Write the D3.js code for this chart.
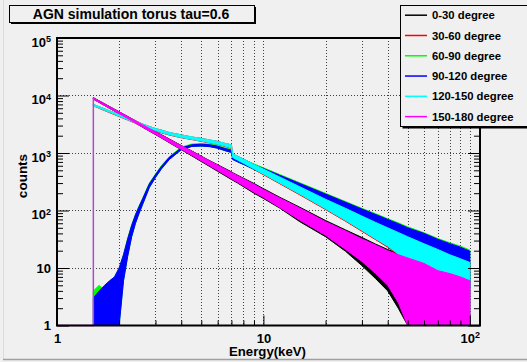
<!DOCTYPE html>
<html>
<head>
<meta charset="utf-8">
<script src="https://cdn.jsdelivr.net/npm/d3@7"></script>
<style>
  html, body { margin: 0; padding: 0; background: #f0f0f0; }
  svg { display: block; font-family: "Liberation Sans", Arial, Helvetica, sans-serif; font-weight: bold; }
</style>
</head>
<body>
<svg id="chart" width="527" height="362"></svg>
<script>
// ---- data -------------------------------------------------------------
// Energy knots (keV) at which the spread of the simulated counts is given
const energyKeV = [1.5,1.6,1.7,1.8,1.9,2.0,2.1,2.2,2.3,2.4,2.5,2.6,2.8,3.0,3.2,3.5,4.0,4.5,5.0,5.5,6.0,6.5,7.0,7.1,7.5,8,9,10,12,15,20,25,30,35,40,45,50,60,70,80,90,100];

// Upper / lower envelope of counts per bin, one pair per viewing-angle bin
const hi0to30 = [9180,8080,7170,6410,5770,5220,4740,4330,3960,3650,3360,3120,2700,2370,2090,1750,1350,1085,880,735,625,540,470,455,410,365,295,240,170,114,67,46,34,26,21,18,15.5,12.5,9.5,8.5,7.5,6.5];
const lo0to30 = [8640,7580,6700,5960,5340,4810,4350,3960,3620,3310,3040,2800,2400,2090,1830,1510,1140,890,710,580,480,405,345,335,300,260,200,162,110,64,35,19.5,11,6.5,4,2,0.5,0,0,0,0,0];

const hi30to60 = [7000,6390,5880,5400,5020,4650,4350,4050,3820,3580,3400,3190,2900,2660,2510,2270,2070,1900,1800,1680,1590,1470,1390,960,880,785,640,530,386,262,160,112,82,64,51,42.5,36,27,21.5,17.5,15,13];
const lo30to60 = [6600,5990,5460,5020,4640,4300,4000,3740,3500,3290,3090,2920,2620,2420,2250,2050,1840,1710,1590,1490,1395,1300,1200,820,735,650,515,420,292,187,104,65,43.5,31,23,17,12.5,8,4.8,2.8,1.8,0.8];

const hi60to90 = [4,5,4,6,7,10,17,33,56,86,121,164,298,432,597,865,1265,1430,1460,1430,1350,1235,1150,915,847,770,645,553,422,304,199,143,109,88,72,61,52,41,32.5,27.5,24,20.5];
const lo60to90 = [0,0,0,0,0,1,6,16,35,60,90,128,250,375,525,770,1140,1300,1320,1290,1210,1100,1020,770,701,632,522,439,326,225,137,91,66,49,38,29,24,16,11.5,8.5,6,4.4];

const hi90to120 = [3,4,5,6,7,10,17,32,55,84,118,160,290,420,580,840,1230,1390,1420,1390,1310,1200,1120,890,823,748,628,537,410,295,193,139,106,85,70,59,50,40,31.5,26.5,23,19.6];
const lo90to120 = [0,0,0,0,0,1,6,16,35,60,90,128,250,375,525,770,1140,1300,1320,1290,1210,1100,1020,770,701,632,522,439,326,225,137,91,66,49,38,29,24,16,11.5,8.5,6,4.4];

const hi120to150 = [7020,6400,5870,5410,5010,4660,4340,4060,3810,3590,3390,3200,2890,2670,2500,2280,2060,1910,1790,1690,1585,1480,1380,966,876,781,633,526,382,259,157,109,80,62,50,41.5,35,26.4,21,17,14.5,12.5];
const lo120to150 = [6660,6060,5530,5090,4700,4360,4060,3790,3550,3330,3130,2960,2650,2450,2280,2080,1860,1730,1610,1510,1415,1320,1220,834,750,663,527,430,300,193,107,67,45,32,24,17.5,13,8.4,5,3,2,1];

const hi150to180 = [9140,8040,7140,6380,5740,5190,4710,4300,3940,3630,3340,3100,2680,2350,2070,1730,1340,1070,870,726,615,528,460,447,403,357,286,231,165,110,64,44,32,25,20,17,15,12,9,8,7,6];
const lo150to180 = [8660,7600,6720,5980,5360,4830,4370,3980,3640,3330,3060,2820,2420,2110,1850,1530,1160,910,730,598,497,420,358,347,309,269,208,169,113,68,37,21,13,8,5,2.5,1,0,0,0,0,0];

const seriesLabels = ["0-30 degree","30-60 degree","60-90 degree","90-120 degree","120-150 degree","150-180 degree"];
const seriesColors = ["#000000","#ff0000","#00ff00","#0000ff","#00ffff","#ff00ff"];
const seriesHi = [hi0to30, hi30to60, hi60to90, hi90to120, hi120to150, hi150to180];
const seriesLo = [lo0to30, lo30to60, lo60to90, lo90to120, lo120to150, lo150to180];

// Axis ticks: [mantissa, exponent]
const xTickValues = [1, 10, 100];
const xTickLabels = [["1",""],["10",""],["10","2"]];
const yTickValues = [1, 10, 100, 1000, 10000, 100000];
const yTickLabels = [["1",""],["10",""],["10","2"],["10","3"],["10","4"],["10","5"]];

const titleText = "AGN simulation torus tau=0.6";
const xTitle = "Energy(keV)";
const yTitle = "counts";

// ---- layout -----------------------------------------------------------
const W = 527, H = 362;
const frame = { left: 57, right: 480, top: 38, bottom: 325.5 };
const bg = "#f0f0f0";

const svg = d3.select("#chart");
svg.append("rect").attr("width", W).attr("height", H).attr("fill", bg);
// canvas bevel
svg.append("line").attr("x1", 3.5).attr("x2", 3.5).attr("y1", 0).attr("y2", 359)
   .attr("stroke", "#dcdcdc").attr("stroke-width", 1);
svg.append("line").attr("x1", 3).attr("x2", W).attr("y1", 359.5).attr("y2", 359.5)
   .attr("stroke", "#a0a0a0").attr("stroke-width", 1.5);

const x = d3.scaleLog().domain([1, 112]).range([frame.left, frame.right]);
const y = d3.scaleLog().domain([1, 1e5]).range([frame.bottom, frame.top]).clamp(true);
const yc = v => y(Math.max(v, 1));

// minor tick positions per decade
const xMinor = [];
[1, 10].forEach(d => { for (let k = 2; k <= 9; k++) xMinor.push(k * d); });
const yMinor = [];
[1, 10, 100, 1000, 10000].forEach(d => { for (let k = 2; k <= 9; k++) yMinor.push(k * d); });

// ---- grid ---------------------------------------------------------------
const grid = svg.append("g").attr("stroke", "#404040").attr("stroke-width", 1)
  .attr("stroke-dasharray", "1,2");
xMinor.concat([10, 100]).forEach(v => {
  const px = Math.round(x(v)) + 0.5;
  grid.append("line").attr("x1", px).attr("x2", px).attr("y1", frame.top).attr("y2", frame.bottom);
});
yTickValues.slice(1, -1).forEach(v => {
  const py = Math.round(y(v)) + 0.5;
  grid.append("line").attr("x1", frame.left).attr("x2", frame.right).attr("y1", py).attr("y2", py);
});

// ---- spectra ------------------------------------------------------------
const area = d3.area()
  .x(d => x(d.e))
  .y0(d => yc(d.lo))
  .y1(d => yc(d.hi));

const plot = svg.append("g");
seriesLabels.forEach((name, i) => {
  const rows = energyKeV.map((e, j) => ({ e, hi: seriesHi[i][j], lo: seriesLo[i][j] }));
  plot.append("path").datum(rows)
    .attr("d", area)
    .attr("fill", seriesColors[i])
    .attr("stroke", seriesColors[i])
    .attr("stroke-width", 1)
    .attr("stroke-linejoin", "round");
});

// empty bins below the first energy knot, drawn along the axis floor
const firstPeak = d3.max(seriesHi, s => s[0]);
plot.append("path")
  .attr("d", d3.line()([
    [x(1), yc(0)], [x(energyKeV[0]), yc(0)], [x(energyKeV[0]), yc(firstPeak)]
  ]))
  .attr("fill", "none").attr("stroke", "#b848c8").attr("stroke-width", 1.5);

// ---- frame and axes -----------------------------------------------------
svg.append("rect")
  .attr("x", frame.left).attr("y", frame.top)
  .attr("width", frame.right - frame.left).attr("height", frame.bottom - frame.top)
  .attr("fill", "none").attr("stroke", "#000").attr("stroke-width", 2);

function styleAxis(g) {
  g.select(".domain").remove();
  g.selectAll(".tick line").attr("stroke", "#000").attr("stroke-width", 1);
}

function supLabel(sel, labels, values) {
  sel.selectAll(".tick text").each(function (d) {
    const idx = values.indexOf(d);
    const t = d3.select(this).text(null);
    const [base, exp] = labels[idx];
    t.append("tspan").text(base);
    if (exp) {
      t.append("tspan").text(exp).attr("font-size", 9).attr("dy", "-0.5em");
    }
  });
}

// bottom axis
svg.append("g").attr("transform", `translate(0,${frame.bottom})`)
  .call(d3.axisBottom(x).tickValues(xMinor).tickSize(-5).tickFormat(""))
  .call(styleAxis);
const gxMajor = svg.append("g").attr("transform", `translate(0,${frame.bottom})`)
  .call(d3.axisBottom(x).tickValues(xTickValues).tickSize(-10).tickPadding(8))
  .call(styleAxis);
gxMajor.selectAll(".tick text").attr("font-size", 13).attr("fill", "#000")
  .attr("font-family", "Liberation Sans, Arial, sans-serif").attr("font-weight", "bold");
supLabel(gxMajor, xTickLabels, xTickValues);

// left axis
svg.append("g").attr("transform", `translate(${frame.left},0)`)
  .call(d3.axisLeft(y).tickValues(yMinor).tickSize(-6).tickFormat(""))
  .call(styleAxis);
const gyMajor = svg.append("g").attr("transform", `translate(${frame.left},0)`)
  .call(d3.axisLeft(y).tickValues(yTickValues).tickSize(-12).tickPadding(6))
  .call(styleAxis);
gyMajor.selectAll(".tick text").attr("font-size", 13).attr("fill", "#000")
  .attr("font-family", "Liberation Sans, Arial, sans-serif").attr("font-weight", "bold");
supLabel(gyMajor, yTickLabels, yTickValues);
// labels with an exponent sit a little lower so that the whole label is centred
gyMajor.selectAll(".tick text").each(function (d) {
  const idx = yTickValues.indexOf(d);
  if (yTickLabels[idx][1]) d3.select(this).attr("dy", "0.62em");
});

// right axis (ticks only)
svg.append("g").attr("transform", `translate(${frame.right},0)`)
  .call(d3.axisRight(y).tickValues(yMinor).tickSize(-6).tickFormat(""))
  .call(styleAxis);
svg.append("g").attr("transform", `translate(${frame.right},0)`)
  .call(d3.axisRight(y).tickValues(yTickValues).tickSize(-12).tickFormat(""))
  .call(styleAxis);

// axis titles
svg.append("text").attr("x", 267.5).attr("y", 355.5).attr("text-anchor", "middle")
  .attr("font-size", 13.2).text(xTitle);
svg.append("text").attr("transform", "translate(27,176) rotate(-90)")
  .attr("text-anchor", "middle").attr("font-size", 13.5).text(yTitle);

// ---- title box ----------------------------------------------------------
const tb = { x: 9.5, y: 5.5, w: 245, h: 17 };
svg.append("rect").attr("x", tb.x + 1.5).attr("y", tb.y + 1.5).attr("width", tb.w).attr("height", tb.h)
  .attr("fill", "#000");
svg.append("rect").attr("x", tb.x).attr("y", tb.y).attr("width", tb.w).attr("height", tb.h)
  .attr("fill", bg).attr("stroke", "#000").attr("stroke-width", 1);
svg.append("text").attr("x", tb.x + tb.w / 2 - 1).attr("y", 19.3).attr("text-anchor", "middle")
  .attr("font-size", 14).text(titleText);

// ---- legend -------------------------------------------------------------
const lg = { x: 400.5, y: 5.5, w: 140, h: 121 };
svg.append("rect").attr("x", lg.x + 2).attr("y", lg.y + 2).attr("width", lg.w).attr("height", lg.h)
  .attr("fill", "#000");
svg.append("rect").attr("x", lg.x).attr("y", lg.y).attr("width", lg.w).attr("height", lg.h)
  .attr("fill", bg).attr("stroke", "#000").attr("stroke-width", 1);
const rowY = d3.scaleLinear().domain([0, seriesLabels.length - 1]).range([15.2, 116.6]);
seriesLabels.forEach((name, i) => {
  const yy = rowY(i);
  svg.append("line").attr("x1", 405).attr("x2", 427).attr("y1", yy).attr("y2", yy)
    .attr("stroke", seriesColors[i]).attr("stroke-width", 1.5);
  svg.append("text").attr("x", 432).attr("y", yy).attr("dy", "0.36em")
    .attr("font-size", 11.3).text(name);
});
</script>
</body>
</html>
